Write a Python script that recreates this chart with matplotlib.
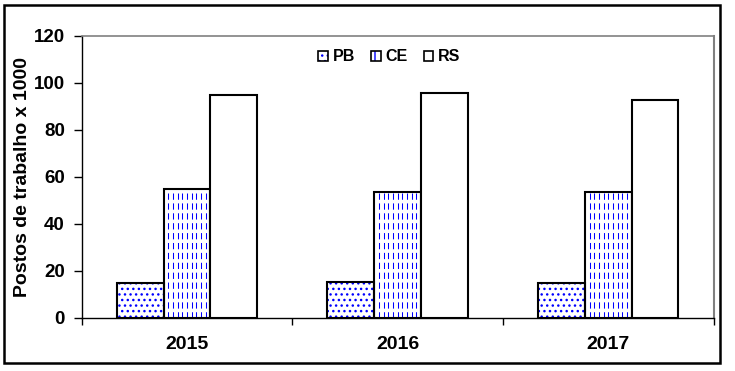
import matplotlib
matplotlib.use("Agg")
import matplotlib.pyplot as plt
import matplotlib.patches as mpatches
import numpy as np

plt.rcParams['font.family'] = ['Liberation Sans', 'DejaVu Sans']
plt.rcParams['font.weight'] = 'bold'
plt.rcParams['hatch.linewidth'] = 1.0

# data
years = ['2015', '2016', '2017']
pb = [14.8, 15.2, 14.8]
ce = [55.0, 53.4, 53.4]
rs = [95.0, 95.8, 92.9]

fig = plt.figure(figsize=(7.35, 3.71), dpi=100)
ax = fig.add_axes([0.111, 0.143, 0.860, 0.760])

x = np.arange(len(years))
w = 0.222

# PB - blue dots
ax.bar(x - w, pb, w, facecolor='white', edgecolor='blue', linewidth=0,
       hatch='...', zorder=2)
ax.bar(x - w, pb, w, facecolor='none', edgecolor='black', linewidth=1.5, zorder=3)

# CE - blue dashed vertical lines
ce_bars = ax.bar(x, ce, w, facecolor='none', edgecolor='black', linewidth=1.5, zorder=3)
for p in ce_bars:
    xs = np.linspace(p.get_x(), p.get_x() + p.get_width(), 11)[1:-1]
    ax.vlines(xs, 0, p.get_height(), colors='blue', linewidth=0.75,
              linestyles=(0, (6, 3.5)), zorder=2)

# RS - white
ax.bar(x + w, rs, w, facecolor='white', edgecolor='black', linewidth=1.5, zorder=3)

ax.set_xlim(-0.5, 2.5)
ax.set_ylim(0, 120)
ax.set_yticks([0, 20, 40, 60, 80, 100, 120])
ax.set_xticks(x)
ax.set_xticklabels(years)
ax.set_xticks([-0.5, 0.5, 1.5, 2.5], minor=True)
ax.tick_params(axis='x', which='major', length=0, pad=13, labelsize=14)
ax.tick_params(axis='x', which='minor', length=5, width=1, direction='out')
ax.tick_params(axis='y', length=6, width=1, direction='out', pad=6, labelsize=13.5)
ax.set_ylabel('Postos de trabalho x 1000', fontsize=14, fontweight='bold', labelpad=2)

ax.spines['top'].set_color('#808080')
ax.spines['right'].set_color('#808080')
ax.spines['top'].set_linewidth(1.2)
ax.spines['right'].set_linewidth(1.5)
ax.spines['left'].set_linewidth(1.0)
ax.spines['bottom'].set_linewidth(1.0)

# legend
h_pb = (mpatches.Patch(facecolor='white', edgecolor='blue', linewidth=0, hatch='...'),
        mpatches.Patch(facecolor='none', edgecolor='black', linewidth=1.2))
h_ce = (mpatches.Patch(facecolor='white', edgecolor='blue', linewidth=0, hatch='|'),
        mpatches.Patch(facecolor='none', edgecolor='black', linewidth=1.2))
h_rs = mpatches.Patch(facecolor='white', edgecolor='black', linewidth=1.2)
ax.legend([h_pb, h_ce, h_rs], ['PB', 'CE', 'RS'], loc='center',
          bbox_to_anchor=(0.487, 0.926), ncol=3, frameon=False,
          handlelength=0.6, handleheight=0.6, handletextpad=0.3,
          columnspacing=1.0, prop={'size': 11.5, 'weight': 'bold'})

# outer frame
fig.patches.append(mpatches.Rectangle((4 / 735, 1 - 363 / 371), 716 / 735, 358 / 371,
                                      transform=fig.transFigure, fill=False,
                                      edgecolor='black', linewidth=1.8))

fig.savefig('out.png', dpi=100)
